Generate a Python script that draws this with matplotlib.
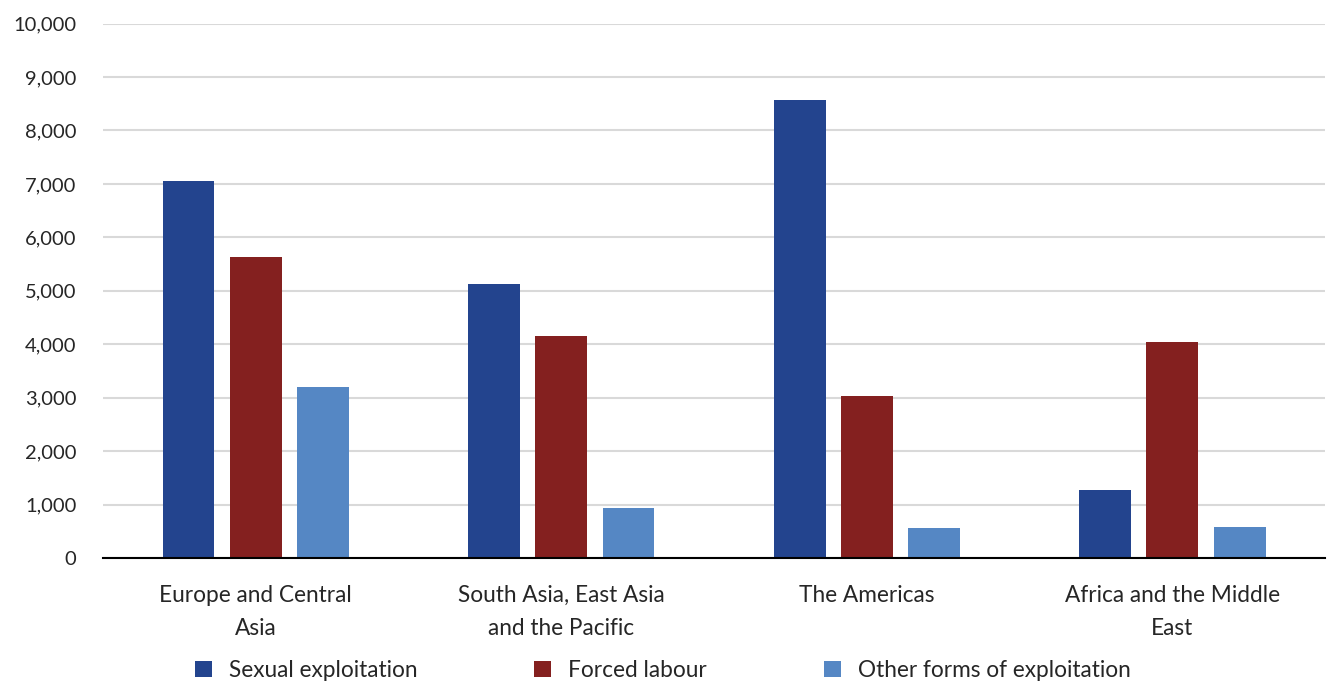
import matplotlib
matplotlib.use("Agg")
import matplotlib.pyplot as plt
import numpy as np
from matplotlib.ticker import FuncFormatter, MultipleLocator

categories = ["Europe and Central\nAsia", "South Asia, East Asia\nand the Pacific",
              "The Americas", "Africa and the Middle\nEast"]
series_names = ["Sexual exploitation", "Forced labour", "Other forms of exploitation"]
sexual = [7050, 5130, 8570, 1275]
forced = [5630, 4150, 3030, 4050]
other = [3210, 940, 555, 575]
colors = ["#23448E", "#84201F", "#5587C4"]

plt.rcParams['font.family'] = ['Lato', 'DejaVu Sans']

fig = plt.figure(figsize=(13.27, 6.84), dpi=100)
ax = fig.add_axes([0.0776, 0.184, 0.921, 0.7816])

x = np.arange(len(categories))
width = 0.17
step = 0.22
for i, (vals, name, c) in enumerate(zip([sexual, forced, other], series_names, colors)):
    ax.bar(x + (i - 1) * step, vals, width, color=c, label=name, zorder=3)

ax.set_xlim(-0.5, len(categories) - 0.5)
ax.set_ylim(0, 10000)
ax.yaxis.set_major_locator(MultipleLocator(1000))
ax.yaxis.set_major_formatter(FuncFormatter(lambda v, p: f"{int(v):,}"))
ax.grid(axis='y', color='#d9d9d9', linewidth=1.5, zorder=0)
for s in ['top', 'right', 'left']:
    ax.spines[s].set_visible(False)
ax.spines['bottom'].set_color('black')
ax.spines['bottom'].set_linewidth(1.5)
ax.spines['bottom'].set_zorder(4)
ax.tick_params(axis='y', length=0, pad=19, labelsize=14.5, labelcolor='#262626')
ax.tick_params(axis='x', length=0, pad=19, labelsize=16.3, labelcolor='#262626')
ax.set_xticks(x)
ax.set_xticklabels(categories, linespacing=1.72)

fig.legend(loc='center', bbox_to_anchor=(0.4995, 0.02), ncol=3, frameon=False,
           fontsize=16.3, columnspacing=5.15, handlelength=0.75, handleheight=0.75,
           handletextpad=0.75, labelcolor='#262626')

fig.savefig("out.png", dpi=100)
